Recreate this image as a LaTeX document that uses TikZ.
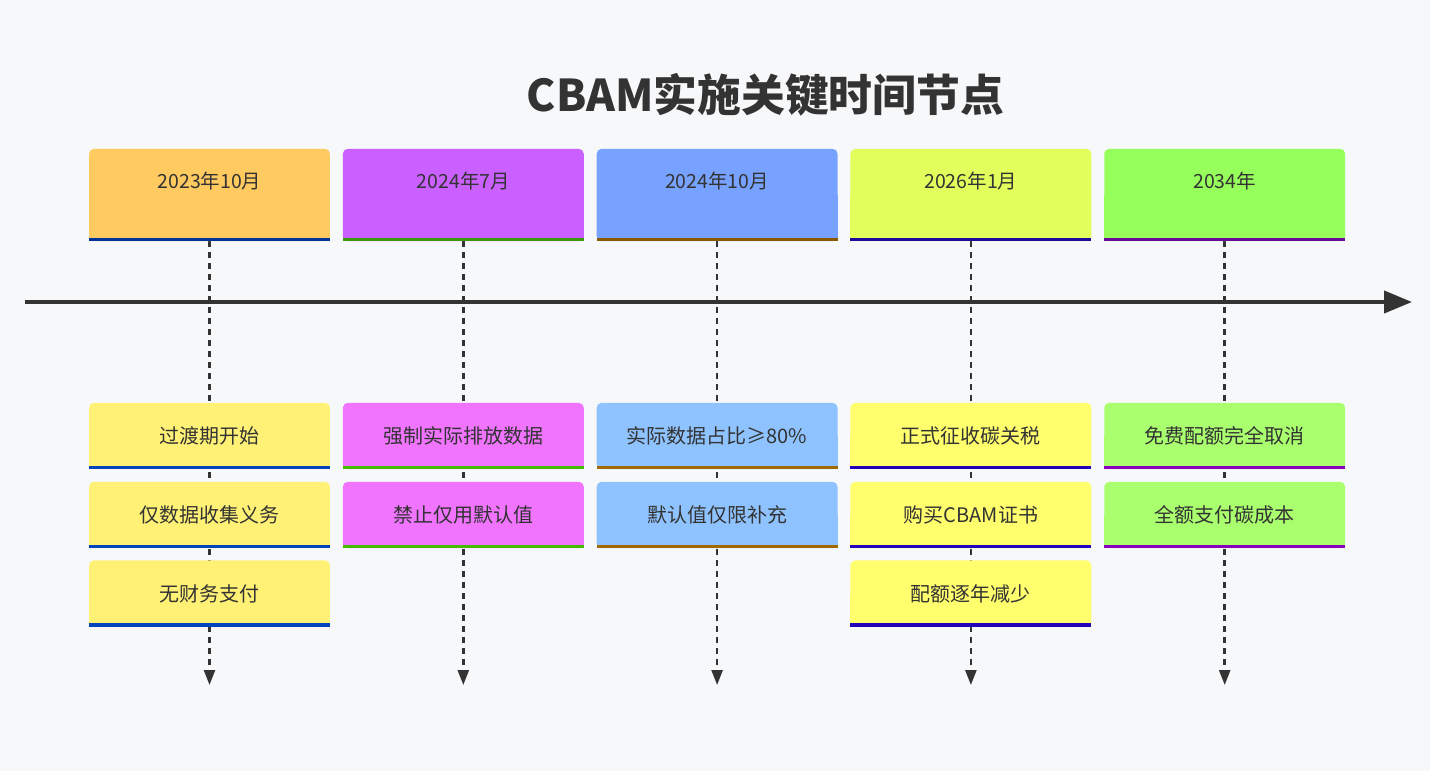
\documentclass[tikz,border=0pt]{standalone}
\usepackage{fontspec}
\setmainfont{Noto Sans CJK SC}
\usetikzlibrary{arrows.meta,calc}
\definecolor{pagebg}{HTML}{F7F8FA}
\definecolor{txt}{HTML}{333333}
\definecolor{hA}{HTML}{FFCA60}\definecolor{hAb}{HTML}{003399}
\definecolor{hB}{HTML}{CA60FF}\definecolor{hBb}{HTML}{3A9A0A}
\definecolor{hC}{HTML}{78A2FF}\definecolor{hCb}{HTML}{8A5A00}
\definecolor{hD}{HTML}{E1FF5C}\definecolor{hDb}{HTML}{1E0A9A}
\definecolor{hE}{HTML}{96FF5C}\definecolor{hEb}{HTML}{6A0A9A}
\definecolor{eA}{HTML}{FFF175}\definecolor{eAb}{HTML}{0044BB}
\definecolor{eB}{HTML}{F174FF}\definecolor{eBb}{HTML}{44BB00}
\definecolor{eC}{HTML}{8FC3FF}\definecolor{eCb}{HTML}{A06A00}
\definecolor{eD}{HTML}{FFFF6E}\definecolor{eDb}{HTML}{2200BB}
\definecolor{eE}{HTML}{AAFF6E}\definecolor{eEb}{HTML}{8800BB}
\pgfdeclarelayer{paper}\pgfdeclarelayer{lines}\pgfdeclarelayer{cards}
\pgfsetlayers{paper,lines,cards,main}
\tikzset{
  card/.style={minimum width=240.5pt, inner sep=0pt, draw=none},
  hdr/.style={card, minimum height=92pt},
  evt/.style={card, minimum height=66pt, text=txt, font=\fontsize{20}{24}\selectfont},
  hdrtext/.style={text=txt, inner sep=0pt, font=\fontsize{19.5}{23}\selectfont},
  dashline/.style={draw=txt, line width=2.5pt, dash pattern=on 6pt off 5pt,
    -{Triangle[width=11pt,length=15pt]}},
  axis/.style={draw=txt, line width=4pt, -{Triangle[width=22pt,length=28pt]}},
}
\newcommand\cardfill[3]{%
  \fill[#2, rounded corners=5pt] (#1.south west) rectangle (#1.north east);
  \fill[#2] (#1.south west) rectangle (#1.east);
  \fill[#3] (#1.south west) rectangle ([yshift=3.5pt]#1.south east);
}
\begin{document}
\begin{tikzpicture}[x=1pt,y=-1pt]
\useasboundingbox (0,0) rectangle (1430,771);
\begin{pgfonlayer}{paper}
\fill[pagebg] (0,0) rectangle (1430,771);
\end{pgfonlayer}

\node[text=txt, inner sep=0pt, font=\fontsize{43.8}{52}\selectfont\bfseries] (title) at (765.5,95) {CBAM实施关键时间节点};

% headers
\node[hdr] (h1) at (209.5,195) {};
\node[hdr] (h2) at (463.3,195) {};
\node[hdr] (h3) at (717.1,195) {};
\node[hdr] (h4) at (970.9,195) {};
\node[hdr] (h5) at (1224.7,195) {};
\node[hdrtext] (h1t) at (209.5,181) {2023年10月};
\node[hdrtext] (h2t) at (463.3,181) {2024年7月};
\node[hdrtext] (h3t) at (717.1,181) {2024年10月};
\node[hdrtext] (h4t) at (970.9,181) {2026年1月};
\node[hdrtext] (h5t) at (1224.7,181) {2034年};

% events
\node[evt] (e11) at (209.5,436) {过渡期开始};
\node[evt] (e12) at (209.5,515) {仅数据收集义务};
\node[evt] (e13) at (209.5,593.5) {无财务支付};
\node[evt] (e21) at (463.3,436) {强制实际排放数据};
\node[evt] (e22) at (463.3,515) {禁止仅用默认值};
\node[evt] (e31) at (717.1,436) {实际数据占比≥80\%};
\node[evt] (e32) at (717.1,515) {默认值仅限补充};
\node[evt] (e41) at (970.9,436) {正式征收碳关税};
\node[evt] (e42) at (970.9,515) {购买CBAM证书};
\node[evt] (e43) at (970.9,593.5) {配额逐年减少};
\node[evt] (e51) at (1224.7,436) {免费配额完全取消};
\node[evt] (e52) at (1224.7,515) {全额支付碳成本};

\begin{pgfonlayer}{cards}
\cardfill{h1}{hA}{hAb}
\cardfill{h2}{hB}{hBb}
\cardfill{h3}{hC}{hCb}
\cardfill{h4}{hD}{hDb}
\cardfill{h5}{hE}{hEb}
\cardfill{e11}{eA}{eAb}
\cardfill{e12}{eA}{eAb}
\cardfill{e13}{eA}{eAb}
\cardfill{e21}{eB}{eBb}
\cardfill{e22}{eB}{eBb}
\cardfill{e31}{eC}{eCb}
\cardfill{e32}{eC}{eCb}
\cardfill{e41}{eD}{eDb}
\cardfill{e42}{eD}{eDb}
\cardfill{e43}{eD}{eDb}
\cardfill{e51}{eE}{eEb}
\cardfill{e52}{eE}{eEb}
\end{pgfonlayer}

% connectors
\coordinate (d1) at (209.5,685);
\coordinate (d2) at (463.3,685);
\coordinate (d3) at (717.1,685);
\coordinate (d4) at (970.9,685);
\coordinate (d5) at (1224.7,685);
\coordinate (ax0) at (25,302);
\coordinate (ax1) at (1412,302);
\begin{pgfonlayer}{lines}
\draw[dashline] (h1.south) -- (d1);
\draw[dashline] (h2.south) -- (d2);
\draw[dashline] (h3.south) -- (d3);
\draw[dashline] (h4.south) -- (d4);
\draw[dashline] (h5.south) -- (d5);
\end{pgfonlayer}
\draw[axis] (ax0) -- (ax1);
\end{tikzpicture}
\end{document}
